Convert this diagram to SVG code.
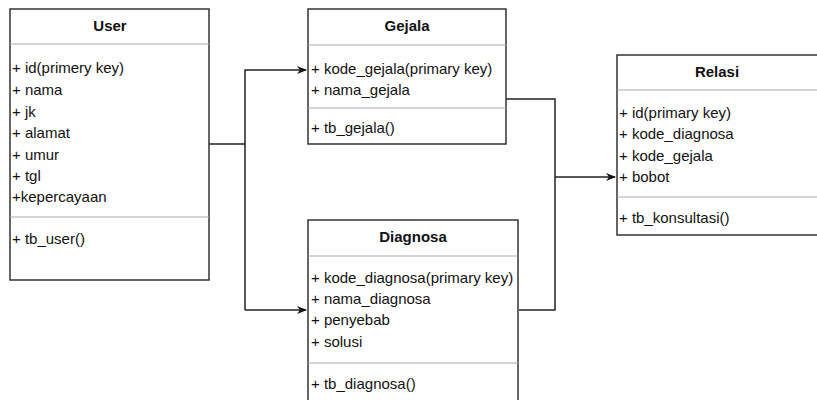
<svg xmlns="http://www.w3.org/2000/svg" width="817" height="400" viewBox="0 0 817 400">
<style>
.box{fill:#fff;stroke:#333;stroke-width:1.5}
.div{stroke:#aaa;stroke-width:1.2}
.t{font-family:"Liberation Sans",Arial,sans-serif;font-size:15px;fill:#111}
.h{font-weight:bold;text-anchor:middle}
.c{fill:none;stroke:#222;stroke-width:1.5}
</style>
<defs>
<marker id="arr" markerWidth="10" markerHeight="8" refX="9" refY="4" orient="auto" markerUnits="userSpaceOnUse">
<path d="M0,0 L10,4 L0,8 L3,4 Z" fill="#111"/>
</marker>
</defs>
<rect width="817" height="400" fill="#fff"/>
<g id="connectors">
<path class="c" d="M209,144 H245"/>
<path class="c" d="M245,310 V70 H306" marker-end="url(#arr)"/>
<path class="c" d="M245,310 H306" marker-end="url(#arr)"/>
<path class="c" d="M506,99 H555 V310 H519"/>
<path class="c" d="M555,177 H615" marker-end="url(#arr)"/>
</g>
<g id="user">
<rect class="box" x="10" y="9" width="199" height="271"/>
<line class="div" x1="10" y1="44" x2="209" y2="44"/>
<line class="div" x1="10" y1="217" x2="209" y2="217"/>
<text class="t h" x="110" y="31">User</text>
<text class="t" x="12" y="73">+ id(primery key)</text>
<text class="t" x="12" y="95">+ nama</text>
<text class="t" x="12" y="117">+ jk</text>
<text class="t" x="12" y="138">+ alamat</text>
<text class="t" x="12" y="160">+ umur</text>
<text class="t" x="12" y="181">+ tgl</text>
<text class="t" x="12" y="202">+kepercayaan</text>
<text class="t" x="12" y="244">+ tb_user()</text>
</g>
<g id="gejala">
<rect class="box" x="308" y="9" width="198" height="135"/>
<line class="div" x1="308" y1="45" x2="506" y2="45"/>
<line class="div" x1="308" y1="108" x2="506" y2="108"/>
<text class="t h" x="407" y="31">Gejala</text>
<text class="t" x="311" y="74">+ kode_gejala(primary key)</text>
<text class="t" x="311" y="95">+ nama_gejala</text>
<text class="t" x="311" y="133">+ tb_gejala()</text>
</g>
<g id="diagnosa">
<rect class="box" x="308" y="220" width="210" height="185"/>
<line class="div" x1="308" y1="256" x2="518" y2="256"/>
<line class="div" x1="308" y1="363" x2="518" y2="363"/>
<text class="t h" x="413" y="242">Diagnosa</text>
<text class="t" x="311" y="283">+ kode_diagnosa(primary key)</text>
<text class="t" x="311" y="304">+ nama_diagnosa</text>
<text class="t" x="311" y="325">+ penyebab</text>
<text class="t" x="311" y="347">+ solusi</text>
<text class="t" x="311" y="389">+ tb_diagnosa()</text>
</g>
<g id="relasi">
<rect class="box" x="617" y="55" width="210" height="180"/>
<line class="div" x1="617" y1="90" x2="817" y2="90"/>
<line class="div" x1="617" y1="197" x2="817" y2="197"/>
<text class="t h" x="717" y="77">Relasi</text>
<text class="t" x="619" y="118">+ id(primary key)</text>
<text class="t" x="619" y="139">+ kode_diagnosa</text>
<text class="t" x="619" y="161">+ kode_gejala</text>
<text class="t" x="619" y="182">+ bobot</text>
<text class="t" x="619" y="223">+ tb_konsultasi()</text>
</g>
</svg>
